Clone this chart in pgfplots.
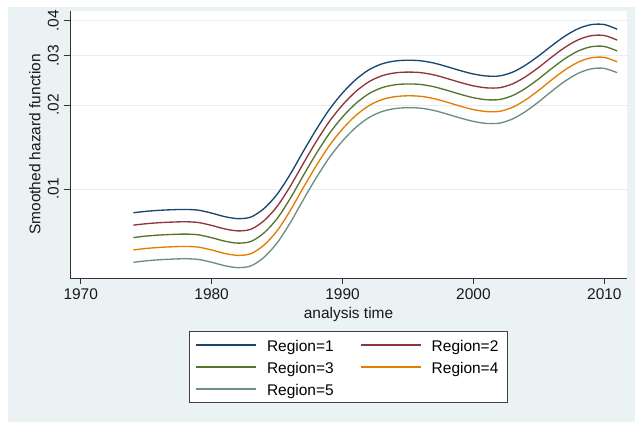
\documentclass[border=0pt]{standalone}
\usepackage{pgfplots}
\usepackage{pgfplotstable}
\pgfplotsset{compat=1.18}
\usepackage{fontspec}
\setmainfont{Liberation Sans}

\definecolor{stnavy}{RGB}{26,71,111}
\definecolor{stmaroon}{RGB}{144,53,59}
\definecolor{stgreen}{RGB}{85,117,47}
\definecolor{storange}{RGB}{227,126,0}
\definecolor{stteal}{RGB}{110,142,132}
\definecolor{bgblue}{RGB}{234,242,243}
\definecolor{gridblue}{RGB}{228,238,240}
\newcommand\fsz{\fontsize{11.6pt}{13.9pt}\selectfont}

% smoothed hazard by region (values x 0.01)
\pgfplotstableread{
year    r1      r2      r3      r4      r5
1974.02 0.82242 0.74244 0.67024 0.60506 0.54622
1975    0.83195 0.75116 0.67822 0.61236 0.55289
1976    0.83884 0.75752 0.68408 0.61776 0.55787
1977    0.84300 0.76133 0.68757 0.62096 0.56080
1978    0.84508 0.76334 0.68950 0.62280 0.56256
1979    0.83952 0.75844 0.68519 0.61901 0.55923
1980    0.81968 0.74064 0.66922 0.60469 0.54638
1981    0.79635 0.71968 0.65039 0.58777 0.53118
1982    0.78332 0.70802 0.63996 0.57844 0.52283
1983    0.79372 0.71759 0.64877 0.58655 0.53029
1984    0.85138 0.76991 0.69624 0.62962 0.56937
1985    0.95721 0.86583 0.78318 0.70842 0.64079
1986    1.12895 1.02143 0.92415 0.83613 0.75650
1987    1.36374 1.23417 1.11691 1.01079 0.91476
1988    1.63652 1.48139 1.34097 1.21386 1.09880
1989    1.93013 1.74775 1.58261 1.43307 1.29766
1990    2.20979 2.00147 1.81279 1.64190 1.48712
1991    2.46408 2.23236 2.02243 1.83224 1.65994
1992    2.67158 2.42096 2.19385 1.98805 1.80155
1993    2.80717 2.54442 2.30626 2.09039 1.89473
1994    2.87515 2.60650 2.36295 2.14216 1.94200
1995    2.89421 2.62441 2.37976 2.15792 1.95676
1996    2.87991 2.61167 2.36842 2.14782 1.94777
1997    2.82576 2.56257 2.32389 2.10744 1.91115
1998    2.74307 2.48758 2.25589 2.04578 1.85524
1999    2.65620 2.40880 2.18444 1.98098 1.79647
2000    2.58271 2.34216 2.12401 1.92618 1.74678
2001    2.54046 2.30384 2.08926 1.89467 1.71820
2002    2.54255 2.30668 2.09269 1.89855 1.72242
2003    2.62353 2.38230 2.16325 1.96434 1.78372
2004    2.78295 2.52914 2.29848 2.08886 1.89836
2005    3.00366 2.73222 2.48531 2.26071 2.05641
2006    3.26740 2.97480 2.70841 2.46587 2.24505
2007    3.53383 3.22003 2.93409 2.67354 2.43613
2008    3.75476 3.42445 3.12320 2.84845 2.59787
2009    3.88235 3.54404 3.23521 2.95329 2.69594
2010    3.88555 3.54929 3.24213 2.96156 2.70527
2010.98 3.73773 3.41707 3.12392 2.85592 2.61091
}\hazard

\begin{document}
\begin{tikzpicture}
  \fill[white] (0,0) rectangle (476.25pt,316.5pt);
  \fill[bgblue] (6pt,0) rectangle (476.25pt,311.25pt);
  \useasboundingbox (0,0) rectangle (476.25pt,316.5pt);
  \begin{axis}[
      at={(52.5pt,108pt)}, anchor=south west,
      scale only axis,
      width=417.75pt, height=200.25pt,
      axis background/.style={fill=white},
      xmin=1969.18, xmax=2011.73,
      ymode=log, ymin=0.4799, ymax=4.344,
      axis x line*=bottom, axis y line*=left,
      axis line style={-, black!80, line width=0.75pt},
      tick align=outside, major tick length=4.8pt,
      tick style={black!80, line width=0.75pt},
      yminorticks=false,
      xtick={1970,1980,1990,2000,2010},
      xticklabels={1970,1980,1990,2000,2010},
      ytick={1,2,3,4},
      yticklabels={.01,.02,.03,.04},
      yticklabel style={rotate=90, anchor=south},
      ymajorgrids, grid style={gridblue, line width=0.75pt},
      every tick label/.append style={font=\fsz, black!90},
      xlabel={analysis time},
      ylabel={Smoothed hazard function},
      label style={font=\fsz, black!90},
      xlabel style={at={(axis description cs:0.5,-0.15)}, anchor=base},
      ylabel style={at={(axis description cs:-0.0445,0.5)}, anchor=south},
      every axis plot/.append style={line width=1pt, smooth, no markers},
      legend columns=2,
      legend cell align=left,
      legend image code/.code={\draw[#1, line width=1.3pt] (0pt,0.45pt) -- (45pt,0.45pt);},
      legend style={at={(axis description cs:0.5,-0.1985)}, anchor=north,
        draw=black!75, line width=0.75pt, fill=white,
        inner xsep=4.5pt, inner ysep=3.6pt, font=\fsz, row sep=3.1pt,
        nodes={inner sep=0pt, text height=11.5pt, text depth=1.9pt,
          text width=52.5pt, align=left},
        /tikz/every odd column/.append style={column sep=7.5pt},
        /tikz/every even column/.append style={column sep=17.25pt}},
    ]
    \addplot[stnavy] table[x=year, y=r1] {\hazard};
    \addlegendentry{Region=1}
    \addplot[stmaroon] table[x=year, y=r2] {\hazard};
    \addlegendentry{Region=2}
    \addplot[stgreen] table[x=year, y=r3] {\hazard};
    \addlegendentry{Region=3}
    \addplot[storange] table[x=year, y=r4] {\hazard};
    \addlegendentry{Region=4}
    \addplot[stteal] table[x=year, y=r5] {\hazard};
    \addlegendentry{Region=5}
  \end{axis}
\end{tikzpicture}
\end{document}
